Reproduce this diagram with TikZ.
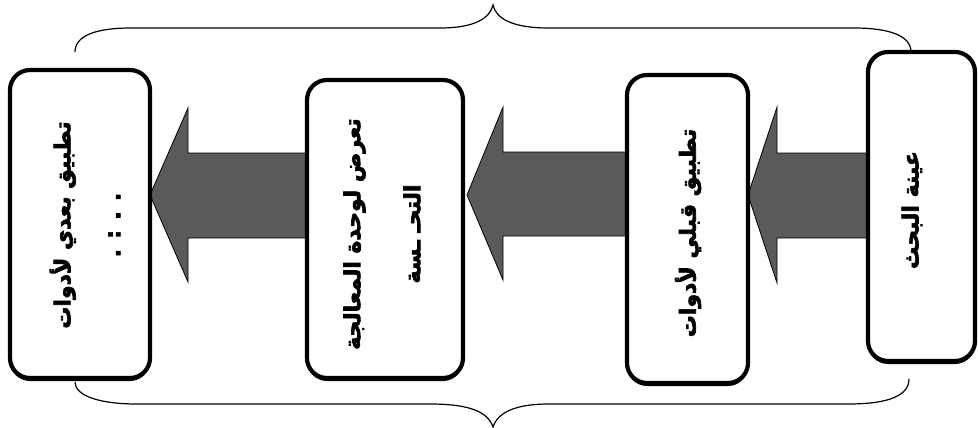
\documentclass[tikz,border=0pt]{standalone}
\usepackage{fontspec}
\TeXXeTstate=1
\font\arabicbold="DejaVu Sans Bold:script=arab;embolden=3" at 22pt
\newcommand\boxfontA{\arabicbold\baselineskip=50pt\relax}
\newcommand\boxfontB{\arabicbold\baselineskip=60pt\relax}
\usetikzlibrary{shadows}
\definecolor{arrowgray}{HTML}{5A5A5A}
\tikzset{
  stagebox/.style={draw=black, line width=4.2pt, rounded corners=20pt, fill=white,
    drop shadow={shadow xshift=0pt, shadow yshift=-3pt, fill=black, opacity=1},
    inner sep=0pt, outer sep=0pt},
  stagetext/.style={rotate=90, align=center, inner sep=0pt, font=\boxfontA},
  blockarrow/.style={draw=black, line width=0.8pt, fill=arrowgray, line join=miter},
  bracepath/.style={draw=black, line width=1.2pt}
}
\begin{document}
\begin{tikzpicture}[x=1pt, y=-1pt]
\useasboundingbox (0,0) rectangle (978,428);
% braces
\draw[bracepath] (75,52) .. controls (75,36) and (95,28) .. (131,28) -- (440,28)
  .. controls (475,28) and (490,18) .. (493,5)
  .. controls (496,18) and (511,28) .. (549,28) -- (854,28)
  .. controls (890,28) and (911,36) .. (911,52);
\draw[bracepath] (75,382) .. controls (75,396) and (100,404) .. (137,404) -- (430,404)
  .. controls (470,404) and (488,412) .. (493,427)
  .. controls (498,412) and (516,404) .. (549,404) -- (848,404)
  .. controls (890,404) and (909,395) .. (909,379);
% block arrows
\draw[blockarrow] (150,195) -- (188,108) -- (188,153) -- (310,153) -- (310,238) -- (188,238) -- (188,282) -- cycle;
\draw[blockarrow] (467,195) -- (503,107) -- (503,152) -- (628,152) -- (628,236) -- (503,236) -- (503,280) -- cycle;
\draw[blockarrow] (748,195) -- (777,107) -- (777,153) -- (868,153) -- (868,238) -- (777,238) -- (777,283) -- cycle;
% boxes
\node[stagebox, minimum width=140pt, minimum height=308pt] (b1) at (80,224) {};
\node[stagebox, minimum width=156pt, minimum height=298pt] (b2) at (385,229) {};
\node[stagebox, minimum width=121pt, minimum height=308pt] (b3) at (687.5,229) {};
\node[stagebox, minimum width=107pt, minimum height=309pt] (b4) at (921.5,206.5) {};
% texts
\node[stagetext] (t1) at (85,225) {\beginR تطبيق بعدي لأدوات\endR\\\beginR . . : .\endR};
\node[stagetext, font=\boxfontB] (t2) at (382,234) {\beginR تعرض لوحدة المعالجة\endR\\\beginR التحـ ـسة\endR};
\node[stagetext] (t3) at (688,233) {\beginR تطبيق قبلي لأدوات\endR};
\node[stagetext] (t4) at (912,210) {\beginR عينة البحث\endR};
\end{tikzpicture}
\end{document}
